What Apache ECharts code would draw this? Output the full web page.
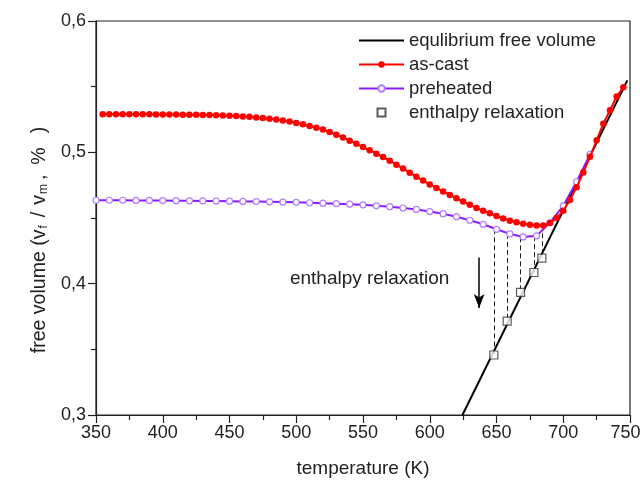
<!DOCTYPE html>
<html>
<head>
<meta charset="utf-8">
<script src="https://cdn.jsdelivr.net/npm/echarts@6/dist/echarts.min.js"></script>
<style>
  html, body { margin: 0; padding: 0; background: #fff; }
  #chart { width: 640px; height: 487px; }
</style>
</head>
<body>
<div id="chart"></div>
<script>
// Free volume versus temperature

// equilibrium free volume (straight line, end points)
const eqTemp = [624.5, 748];
const eqVol = [0.3, 0.5548];

// as-cast sample, 5 K steps
const castTemp = [];
for (let t = 355; t <= 745; t += 5) castTemp.push(t);
const castVol = [
  0.5290, 0.5290, 0.5290, 0.5290, 0.5290, 0.5290, 0.5290, 0.5290, 0.5289, 0.5289,
  0.5288, 0.5288, 0.5287, 0.5287, 0.5286, 0.5285, 0.5284, 0.5283, 0.5281, 0.5279,
  0.5276, 0.5273, 0.5270, 0.5266, 0.5261, 0.5256, 0.5250, 0.5242, 0.5234, 0.5224,
  0.5213, 0.5201, 0.5188, 0.5173, 0.5155, 0.5133, 0.5112, 0.5089, 0.5065, 0.5040,
  0.5016, 0.4990, 0.4964, 0.4936, 0.4906, 0.4876, 0.4845, 0.4814, 0.4785, 0.4756,
  0.4729, 0.4702, 0.4676, 0.4650, 0.4625, 0.4600, 0.4577, 0.4556, 0.4536, 0.4515,
  0.4496, 0.4480, 0.4467, 0.4456, 0.4448, 0.4443, 0.4442, 0.4462, 0.4500, 0.4555,
  0.4637, 0.4735, 0.4846, 0.4966, 0.5092, 0.5218, 0.5320, 0.5425, 0.5495
];

// preheated sample, 10 K steps
const preTemp = [];
for (let t = 350; t <= 720; t += 10) preTemp.push(t);
const preVol = [
  0.4635, 0.4635, 0.4635, 0.4634, 0.4634, 0.4633, 0.4632, 0.4631, 0.4630, 0.4629,
  0.4628, 0.4626, 0.4625, 0.4623, 0.4621, 0.4619, 0.4616, 0.4613, 0.4609, 0.4605,
  0.4600, 0.4593, 0.4586, 0.4576, 0.4565, 0.4549, 0.4533, 0.4510, 0.4483, 0.4452,
  0.4414, 0.4379, 0.4356, 0.4364, 0.4464, 0.4593, 0.4776, 0.4984
];

// enthalpy relaxation points and the preheated level above each one
const relaxTemp = [648, 658, 668, 678, 684];
const relaxVol = [0.3457, 0.3715, 0.3933, 0.4085, 0.4194];
const relaxTop = [0.4414, 0.4379, 0.4353, 0.4363, 0.4384];

// arrow and its caption
const arrowTemp = 637;
const arrowFrom = 0.4199;
const arrowTo = 0.3814;
const captionAt = [555, 0.4037];

const xTicks = [350, 400, 450, 500, 550, 600, 650, 700, 750];
const yTicks = [0.3, 0.4, 0.5, 0.6];

const zip = (a, b) => a.map((v, i) => [v, b[i]]);

const FONT = '"Liberation Sans", Arial, sans-serif';
const INK = '#222';

const chart = echarts.init(document.getElementById('chart'), null, { renderer: 'canvas' });

const axisCommon = {
  axisLine: { show: true, lineStyle: { color: INK, width: 1.2 } },
  axisTick: { show: true, inside: false, length: 8, lineStyle: { color: INK, width: 1.2 } },
  minorTick: { show: true, splitNumber: 2, length: 5, lineStyle: { color: INK, width: 1.2 } },
  splitLine: { show: false },
  axisLabel: { color: INK, fontSize: 18, fontFamily: FONT },
  nameTextStyle: { color: INK, fontSize: 19, fontFamily: FONT }
};

const subStyle = { fontSize: 12, color: INK, fontFamily: FONT, verticalAlign: 'bottom' };

chart.setOption({
  animation: false,
  backgroundColor: '#fff',
  textStyle: { fontFamily: FONT },
  grid: {
    left: 96, right: 10, top: 21, bottom: 72,
    outerBoundsMode: 'none',
    containLabel: false,
    show: true, borderColor: INK, borderWidth: 1.2, backgroundColor: 'transparent'
  },
  legend: {
    orient: 'vertical',
    left: 353,
    top: 26,
    itemWidth: 45,
    itemHeight: 8,
    itemGap: 5,
    textStyle: { color: INK, fontSize: 18.5, fontFamily: FONT },
    data: [
      { name: 'equlibrium free volume', itemStyle: { opacity: 0 } },
      'as-cast',
      'preheated',
      { name: 'enthalpy relaxation', icon: 'path://M0,0H10V10H0Z' }
    ]
  },
  xAxis: Object.assign({}, axisCommon, {
    type: 'value',
    min: xTicks[0], max: xTicks[xTicks.length - 1], interval: 50,
    name: 'temperature (K)',
    nameLocation: 'middle',
    nameGap: 44,
    axisLabel: Object.assign({}, axisCommon.axisLabel, {
      margin: 9,
      // the last label is nudged inwards so it stays on the canvas
      formatter: v => v === xTicks[xTicks.length - 1] ? '{last|' + v + '}' : String(v),
      rich: { last: { color: INK, fontSize: 18, fontFamily: FONT, padding: [0, 9, 0, 0] } }
    })
  }),
  yAxis: Object.assign({}, axisCommon, {
    type: 'value',
    min: yTicks[0], max: yTicks[yTicks.length - 1], interval: 0.1,
    name: 'free volume (v{sf|f}/{g1| }v{sm|m},{g2| }%{g3| })',
    nameLocation: 'middle',
    nameGap: 41,
    nameTextStyle: {
      color: INK, fontSize: 19.5, fontFamily: FONT,
      padding: [0, 44, 0, 0],
      rich: {
        sf: Object.assign({}, subStyle, { padding: [9, 8, 0, 1] }),
        sm: Object.assign({}, subStyle, { padding: [9, 4, 0, 1] }),
        g1: { width: 7, fontSize: 19.5 },
        g2: { width: 10, fontSize: 19.5 },
        g3: { width: 14, fontSize: 19.5 }
      }
    },
    axisLabel: Object.assign({}, axisCommon.axisLabel, {
      margin: 10,
      formatter: v => v.toFixed(1).replace('.', ',')
    })
  }),
  series: [
    {
      name: 'equlibrium free volume',
      type: 'line',
      data: zip(eqTemp, eqVol),
      symbol: 'none',
      lineStyle: { color: '#000', width: 2 },
      itemStyle: { color: '#000' },
      clip: true,
      z: 2
    },
    {
      name: 'preheated',
      type: 'line',
      data: zip(preTemp, preVol),
      symbol: 'circle',
      symbolSize: 6,
      lineStyle: { color: '#8a1cff', width: 2 },
      itemStyle: { color: '#fff', borderColor: '#b47cff', borderWidth: 1.2 },
      z: 3
    },
    {
      name: 'as-cast',
      type: 'line',
      data: zip(castTemp, castVol),
      symbol: 'circle',
      symbolSize: 6.5,
      lineStyle: { color: '#ff0000', width: 2 },
      itemStyle: { color: '#ff0000' },
      z: 4
    },
    {
      name: 'enthalpy relaxation',
      type: 'scatter',
      data: zip(relaxTemp, relaxVol),
      symbol: 'rect',
      symbolSize: 8,
      itemStyle: { color: '#fff', borderColor: '#333', borderWidth: 1.2 },
      z: 6,
      markLine: {
        silent: true,
        symbol: ['none', 'none'],
        label: { show: false },
        lineStyle: { color: '#222', type: [5, 3], width: 1 },
        z: 1,
        data: relaxTemp.map((t, i) => [
          { coord: [t, relaxTop[i]] },
          { coord: [t, relaxVol[i]] }
        ])
      },
      markPoint: {
        silent: true,
        symbol: 'circle',
        symbolSize: 0,
        label: { show: true, position: 'inside', color: INK, fontSize: 19, fontFamily: FONT, formatter: 'enthalpy relaxation' },
        data: [{ coord: captionAt, value: 0 }]
      }
    },
    {
      name: 'arrow',
      type: 'line',
      data: [],
      markLine: {
        silent: true,
        symbol: ['none', 'arrow'],
        symbolSize: [8, 14],
        label: { show: false },
        lineStyle: { color: '#000', type: 'solid', width: 1.5 },
        data: [[{ coord: [arrowTemp, arrowFrom] }, { coord: [arrowTemp, arrowTo] }]]
      }
    }
  ]
});
</script>
</body>
</html>
